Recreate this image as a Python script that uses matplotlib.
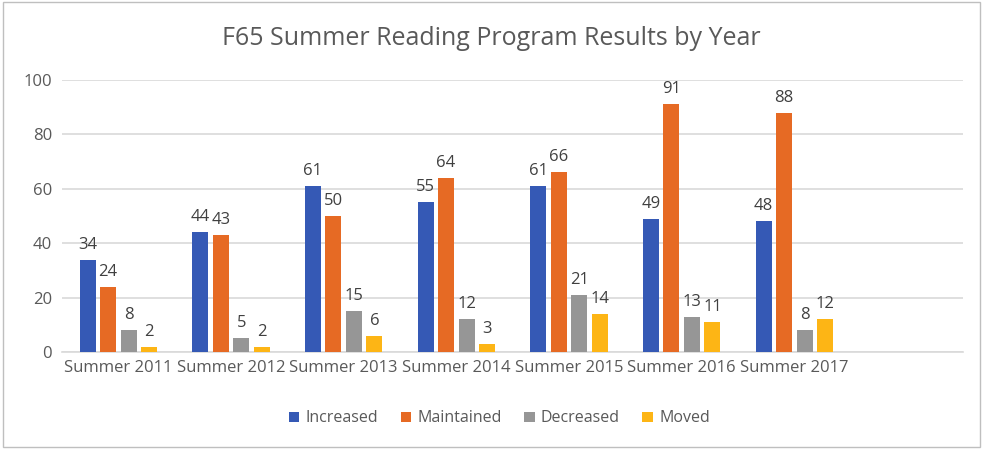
import numpy as np
import matplotlib.pyplot as plt
from matplotlib.patches import Rectangle

plt.rcParams['font.family'] = ['Open Sans', 'DejaVu Sans']

years = ['Summer 2011', 'Summer 2012', 'Summer 2013', 'Summer 2014',
         'Summer 2015', 'Summer 2016', 'Summer 2017', '']
increased = [34, 44, 61, 55, 61, 49, 48, None]
maintained = [24, 43, 50, 64, 66, 91, 88, None]
decreased = [8, 5, 15, 12, 21, 13, 8, None]
moved = [2, 2, 6, 3, 14, 11, 12, None]

series = [('Increased', increased, '#3559B5'),
          ('Maintained', maintained, '#E66A24'),
          ('Decreased', decreased, '#969696'),
          ('Moved', moved, '#FDB515')]

TXT = '#595959'

fig = plt.figure(figsize=(9.83, 4.49), dpi=100)
ax = fig.add_axes([0.063, 0.216, 0.917, 0.606])

x = np.arange(len(years))
width = 0.142
step = 0.182
for i, (name, vals, color) in enumerate(series):
    xs = x + (i - 1.5) * step
    h = [v if v is not None else 0 for v in vals]
    bars = ax.bar(xs, h, width, color=color, label=name, zorder=3)
    for b, v in zip(bars, vals):
        if v is None:
            continue
        ax.annotate(str(v), (b.get_x() + b.get_width() / 2, v),
                    xytext=(0, 5), textcoords='offset points',
                    ha='center', va='bottom', fontsize=12, color='#404040')

ax.set_xlim(-0.5, len(years) - 0.5)
ax.set_ylim(0, 100)
ax.set_yticks(range(0, 101, 20))
ax.set_xticks(x)
ax.set_xticklabels(years)
ax.tick_params(axis='both', length=0, labelsize=12, labelcolor=TXT)
ax.tick_params(axis='y', pad=7)
ax.tick_params(axis='x', pad=6)
ax.grid(axis='y', color='#D9D9D9', linewidth=1.2, zorder=0)
for s in ['top', 'right', 'left']:
    ax.spines[s].set_visible(False)
ax.spines['bottom'].set_color('#D9D9D9')
ax.spines['bottom'].set_linewidth(1.2)

fig.text(0.5, 0.915, 'F65 Summer Reading Program Results by Year',
         ha='center', va='center', fontsize=18, color=TXT)

leg = fig.legend(loc='center', bbox_to_anchor=(0.508, 0.068), ncol=4,
                 frameon=False, fontsize=11.5, handlelength=0.65,
                 handleheight=0.65, handletextpad=0.4, columnspacing=1.4)
for t in leg.get_texts():
    t.set_color(TXT)

fig.patches.append(Rectangle((0.003, 0.005), 0.994, 0.99, transform=fig.transFigure,
                             fill=False, edgecolor='#BFBFBF', linewidth=1))

fig.savefig('out.png', dpi=100)
